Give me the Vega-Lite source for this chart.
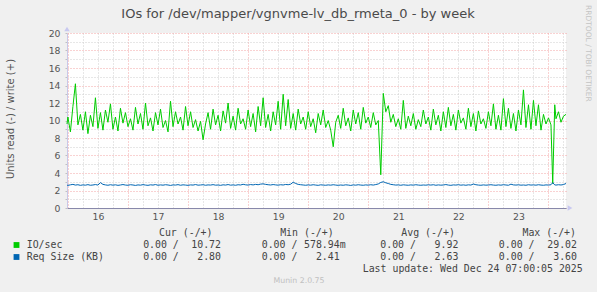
{
  "$schema": "https://vega.github.io/schema/vega-lite/v6.json",
  "width": 499,
  "height": 175,
  "autosize": {"type": "none"},
  "padding": {"left": 67, "top": 33, "right": 31, "bottom": 84},
  "background": "#F0F0F0",
  "config": {"view": {"fill": "#FFFFFF", "stroke": null}, "font": "DejaVu Sans"},
  "title": {"text": "IOs for /dev/mapper/vgnvme-lv_db_rmeta_0 - by week", "font": "DejaVu Sans", "fontSize": 13, "fontWeight": "normal", "color": "#4A4A4A", "anchor": "middle", "frame": "group", "dx": -18.5, "offset": 0, "dy": 16},
  "datasets": {
    "s": [
      {"t": -0.36, "io": 9.6, "rq": 2.62},
      {"t": 0, "io": 10.4, "rq": 2.58},
      {"t": 1, "io": 8.7, "rq": 2.65},
      {"t": 2, "io": 11.6, "rq": 2.7},
      {"t": 3, "io": 14.2, "rq": 2.62},
      {"t": 4, "io": 9.5, "rq": 2.66},
      {"t": 5, "io": 10.7, "rq": 2.59},
      {"t": 6, "io": 8.9, "rq": 2.64},
      {"t": 7, "io": 11.0, "rq": 2.61},
      {"t": 8, "io": 8.5, "rq": 2.67},
      {"t": 9, "io": 10.6, "rq": 2.6},
      {"t": 10, "io": 9.3, "rq": 2.63},
      {"t": 11, "io": 12.6, "rq": 2.68},
      {"t": 12, "io": 9.1, "rq": 2.62},
      {"t": 13, "io": 10.9, "rq": 2.9},
      {"t": 14, "io": 8.9, "rq": 2.7},
      {"t": 15, "io": 11.2, "rq": 2.64},
      {"t": 16, "io": 9.8, "rq": 2.6},
      {"t": 17, "io": 11.9, "rq": 2.66},
      {"t": 18, "io": 9.0, "rq": 2.61},
      {"t": 19, "io": 10.4, "rq": 2.65},
      {"t": 20, "io": 8.8, "rq": 2.59},
      {"t": 21, "io": 11.4, "rq": 2.63},
      {"t": 22, "io": 9.7, "rq": 2.68},
      {"t": 23, "io": 10.9, "rq": 2.62},
      {"t": 24, "io": 9.3, "rq": 2.6},
      {"t": 25, "io": 10.2, "rq": 2.66},
      {"t": 26, "io": 8.9, "rq": 2.63},
      {"t": 27, "io": 11.5, "rq": 2.58},
      {"t": 28, "io": 9.6, "rq": 2.64},
      {"t": 29, "io": 10.8, "rq": 2.61},
      {"t": 30, "io": 9.0, "rq": 2.67},
      {"t": 31, "io": 12.0, "rq": 2.62},
      {"t": 32, "io": 9.4, "rq": 2.59},
      {"t": 33, "io": 10.3, "rq": 2.65},
      {"t": 34, "io": 8.8, "rq": 2.62},
      {"t": 35, "io": 10.9, "rq": 2.68},
      {"t": 36, "io": 9.5, "rq": 2.6},
      {"t": 37, "io": 11.3, "rq": 2.64},
      {"t": 38, "io": 9.2, "rq": 2.61},
      {"t": 39, "io": 10.0, "rq": 2.66},
      {"t": 40, "io": 8.7, "rq": 2.63},
      {"t": 41, "io": 12.2, "rq": 2.58},
      {"t": 42, "io": 9.3, "rq": 2.64},
      {"t": 43, "io": 11.0, "rq": 2.62},
      {"t": 44, "io": 9.6, "rq": 2.67},
      {"t": 45, "io": 10.4, "rq": 2.6},
      {"t": 46, "io": 8.9, "rq": 2.65},
      {"t": 47, "io": 11.6, "rq": 2.62},
      {"t": 48, "io": 9.4, "rq": 2.59},
      {"t": 49, "io": 11.0, "rq": 2.64},
      {"t": 50, "io": 9.2, "rq": 2.62},
      {"t": 51, "io": 10.1, "rq": 2.68},
      {"t": 52, "io": 8.8, "rq": 2.61},
      {"t": 53, "io": 9.9, "rq": 2.63},
      {"t": 54, "io": 7.8, "rq": 2.66},
      {"t": 55, "io": 9.6, "rq": 2.6},
      {"t": 56, "io": 10.9, "rq": 2.64},
      {"t": 57, "io": 9.0, "rq": 2.62},
      {"t": 58, "io": 11.3, "rq": 2.67},
      {"t": 59, "io": 9.5, "rq": 2.61},
      {"t": 60, "io": 10.6, "rq": 2.63},
      {"t": 61, "io": 8.8, "rq": 2.59},
      {"t": 62, "io": 11.1, "rq": 2.65},
      {"t": 63, "io": 9.7, "rq": 2.62},
      {"t": 64, "io": 12.0, "rq": 2.68},
      {"t": 65, "io": 9.1, "rq": 2.61},
      {"t": 66, "io": 10.5, "rq": 2.64},
      {"t": 67, "io": 8.9, "rq": 2.6},
      {"t": 68, "io": 11.4, "rq": 2.66},
      {"t": 69, "io": 9.6, "rq": 2.63},
      {"t": 70, "io": 10.2, "rq": 2.71},
      {"t": 71, "io": 9.0, "rq": 2.65},
      {"t": 72, "io": 11.2, "rq": 2.62},
      {"t": 73, "io": 9.3, "rq": 2.68},
      {"t": 74, "io": 10.8, "rq": 2.64},
      {"t": 75, "io": 8.7, "rq": 2.7},
      {"t": 76, "io": 11.6, "rq": 2.66},
      {"t": 77, "io": 9.4, "rq": 2.73},
      {"t": 78, "io": 12.6, "rq": 2.76},
      {"t": 79, "io": 9.2, "rq": 2.7},
      {"t": 80, "io": 10.7, "rq": 2.66},
      {"t": 81, "io": 8.8, "rq": 2.63},
      {"t": 82, "io": 11.0, "rq": 2.68},
      {"t": 83, "io": 9.5, "rq": 2.64},
      {"t": 84, "io": 12.2, "rq": 2.61},
      {"t": 85, "io": 9.0, "rq": 2.66},
      {"t": 86, "io": 13.0, "rq": 2.63},
      {"t": 87, "io": 9.4, "rq": 2.69},
      {"t": 88, "io": 12.4, "rq": 2.66},
      {"t": 89, "io": 9.1, "rq": 2.72},
      {"t": 90, "io": 10.8, "rq": 2.95},
      {"t": 91, "io": 8.9, "rq": 2.8},
      {"t": 92, "io": 11.3, "rq": 2.7},
      {"t": 93, "io": 9.6, "rq": 2.66},
      {"t": 94, "io": 10.4, "rq": 2.63},
      {"t": 95, "io": 9.0, "rq": 2.6},
      {"t": 96, "io": 11.0, "rq": 2.64},
      {"t": 97, "io": 9.3, "rq": 2.61},
      {"t": 98, "io": 10.2, "rq": 2.66},
      {"t": 99, "io": 8.6, "rq": 2.62},
      {"t": 100, "io": 10.8, "rq": 2.59},
      {"t": 101, "io": 9.5, "rq": 2.65},
      {"t": 102, "io": 11.2, "rq": 2.62},
      {"t": 103, "io": 9.2, "rq": 2.6},
      {"t": 104, "io": 10.0, "rq": 2.64},
      {"t": 105, "io": 8.9, "rq": 2.61},
      {"t": 106, "io": 7.0, "rq": 2.66},
      {"t": 107, "io": 9.8, "rq": 2.62},
      {"t": 108, "io": 10.6, "rq": 2.59},
      {"t": 109, "io": 9.1, "rq": 2.63},
      {"t": 110, "io": 11.4, "rq": 2.6},
      {"t": 111, "io": 9.4, "rq": 2.65},
      {"t": 112, "io": 10.3, "rq": 2.62},
      {"t": 113, "io": 8.8, "rq": 2.58},
      {"t": 114, "io": 11.2, "rq": 2.64},
      {"t": 115, "io": 9.6, "rq": 2.61},
      {"t": 116, "io": 10.9, "rq": 2.66},
      {"t": 117, "io": 9.0, "rq": 2.62},
      {"t": 118, "io": 11.5, "rq": 2.6},
      {"t": 119, "io": 9.7, "rq": 2.64},
      {"t": 120, "io": 10.4, "rq": 2.61},
      {"t": 121, "io": 9.2, "rq": 2.66},
      {"t": 122, "io": 10.9, "rq": 2.62},
      {"t": 123, "io": 9.5, "rq": 2.68},
      {"t": 124, "io": 10.0, "rq": 2.75},
      {"t": 125, "io": 3.8, "rq": 2.92},
      {"t": 126, "io": 13.1, "rq": 3.0},
      {"t": 127, "io": 11.0, "rq": 2.88},
      {"t": 128, "io": 11.7, "rq": 2.8},
      {"t": 129, "io": 9.8, "rq": 2.7},
      {"t": 130, "io": 10.7, "rq": 2.66},
      {"t": 131, "io": 9.3, "rq": 2.62},
      {"t": 132, "io": 10.2, "rq": 2.64},
      {"t": 133, "io": 9.0, "rq": 2.6},
      {"t": 134, "io": 12.3, "rq": 2.65},
      {"t": 135, "io": 9.1, "rq": 2.62},
      {"t": 136, "io": 10.5, "rq": 2.6},
      {"t": 137, "io": 9.4, "rq": 2.64},
      {"t": 138, "io": 10.8, "rq": 2.61},
      {"t": 139, "io": 9.0, "rq": 2.66},
      {"t": 140, "io": 10.1, "rq": 2.62},
      {"t": 141, "io": 9.3, "rq": 2.6},
      {"t": 142, "io": 11.2, "rq": 2.63},
      {"t": 143, "io": 9.6, "rq": 2.61},
      {"t": 144, "io": 10.4, "rq": 2.65},
      {"t": 145, "io": 8.9, "rq": 2.62},
      {"t": 146, "io": 11.3, "rq": 2.66},
      {"t": 147, "io": 9.5, "rq": 2.6},
      {"t": 148, "io": 10.6, "rq": 2.64},
      {"t": 149, "io": 8.8, "rq": 2.61},
      {"t": 150, "io": 11.0, "rq": 2.63},
      {"t": 151, "io": 9.2, "rq": 2.68},
      {"t": 152, "io": 11.5, "rq": 2.62},
      {"t": 153, "io": 9.4, "rq": 2.59},
      {"t": 154, "io": 10.7, "rq": 2.64},
      {"t": 155, "io": 8.9, "rq": 2.62},
      {"t": 156, "io": 11.2, "rq": 2.66},
      {"t": 157, "io": 9.7, "rq": 2.61},
      {"t": 158, "io": 10.3, "rq": 2.64},
      {"t": 159, "io": 9.0, "rq": 2.6},
      {"t": 160, "io": 11.4, "rq": 2.65},
      {"t": 161, "io": 9.3, "rq": 2.62},
      {"t": 162, "io": 10.8, "rq": 2.74},
      {"t": 163, "io": 8.8, "rq": 2.66},
      {"t": 164, "io": 11.1, "rq": 2.62},
      {"t": 165, "io": 9.6, "rq": 2.6},
      {"t": 166, "io": 10.2, "rq": 2.64},
      {"t": 167, "io": 9.1, "rq": 2.61},
      {"t": 168, "io": 11.0, "rq": 2.63},
      {"t": 169, "io": 9.4, "rq": 2.66},
      {"t": 170, "io": 11.9, "rq": 2.62},
      {"t": 171, "io": 9.0, "rq": 2.6},
      {"t": 172, "io": 10.6, "rq": 2.64},
      {"t": 173, "io": 8.9, "rq": 2.61},
      {"t": 174, "io": 12.5, "rq": 2.66},
      {"t": 175, "io": 9.3, "rq": 2.63},
      {"t": 176, "io": 11.4, "rq": 2.6},
      {"t": 177, "io": 9.1, "rq": 2.72},
      {"t": 178, "io": 10.8, "rq": 2.64},
      {"t": 179, "io": 8.8, "rq": 2.62},
      {"t": 180, "io": 11.2, "rq": 2.65},
      {"t": 181, "io": 9.5, "rq": 2.61},
      {"t": 182, "io": 13.5, "rq": 2.63},
      {"t": 183, "io": 9.2, "rq": 2.6},
      {"t": 184, "io": 11.8, "rq": 2.66},
      {"t": 185, "io": 9.0, "rq": 2.62},
      {"t": 186, "io": 12.3, "rq": 2.64},
      {"t": 187, "io": 9.4, "rq": 2.61},
      {"t": 188, "io": 11.8, "rq": 2.66},
      {"t": 189, "io": 8.9, "rq": 2.62},
      {"t": 190, "io": 10.7, "rq": 2.6},
      {"t": 191, "io": 9.6, "rq": 2.64},
      {"t": 192, "io": 10.3, "rq": 2.62},
      {"t": 193, "io": 9.5, "rq": 2.66},
      {"t": 193.7, "io": 2.8, "rq": 2.9},
      {"t": 194.5, "io": 11.8, "rq": 2.64},
      {"t": 195, "io": 10.2, "rq": 2.62},
      {"t": 196, "io": 11.0, "rq": 2.66},
      {"t": 197, "io": 9.8, "rq": 2.63},
      {"t": 198, "io": 10.5, "rq": 2.68},
      {"t": 199, "io": 10.7, "rq": 2.8}
    ],
    "tbl": [
      {"row": "hdr", "col": "cur", "part": "h", "txt": "Cur (-/+)"},
      {"row": "hdr", "col": "min", "part": "h", "txt": "Min (-/+)"},
      {"row": "hdr", "col": "avg", "part": "h", "txt": "Avg (-/+)"},
      {"row": "hdr", "col": "max", "part": "h", "txt": "Max (-/+)"},
      {"row": "io", "col": "cur", "part": "l", "txt": "0.00 /"},
      {"row": "io", "col": "min", "part": "l", "txt": "0.00 /"},
      {"row": "io", "col": "avg", "part": "l", "txt": "0.00 /"},
      {"row": "io", "col": "max", "part": "l", "txt": "0.00 /"},
      {"row": "rq", "col": "cur", "part": "l", "txt": "0.00 /"},
      {"row": "rq", "col": "min", "part": "l", "txt": "0.00 /"},
      {"row": "rq", "col": "avg", "part": "l", "txt": "0.00 /"},
      {"row": "rq", "col": "max", "part": "l", "txt": "0.00 /"},
      {"row": "io", "col": "cur", "part": "r", "txt": "10.72"},
      {"row": "io", "col": "min", "part": "r", "txt": "578.94"},
      {"row": "io", "col": "min", "part": "sfx", "txt": "m"},
      {"row": "io", "col": "avg", "part": "r", "txt": "9.92"},
      {"row": "io", "col": "max", "part": "r", "txt": "29.02"},
      {"row": "rq", "col": "cur", "part": "r", "txt": "2.80"},
      {"row": "rq", "col": "min", "part": "r", "txt": "2.41"},
      {"row": "rq", "col": "avg", "part": "r", "txt": "2.63"},
      {"row": "rq", "col": "max", "part": "r", "txt": "3.60"},
      {"row": "up", "col": "up", "part": "up", "txt": "Last update: Wed Dec 24 07:00:05 2025"},
      {"row": "io", "col": "lab", "part": "lab", "txt": "IO/sec", "ser": "io"},
      {"row": "rq", "col": "lab", "part": "lab", "txt": "Req Size (KB)", "ser": "rq"},
      {"row": "mu", "col": "mu", "part": "mu", "txt": "Munin 2.0.75"},
      {"row": "rr", "col": "rr", "part": "rr", "txt": "RRDTOOL / TOBI OETIKER"}
    ]
  },
  "layer": [
    {
      "data": {"name": "s"},
      "layer": [
        {
          "mark": {"type": "line", "color": "#00CC00", "strokeWidth": 1},
          "encoding": {
            "x": {"field": "t", "type": "quantitative", "scale": {"domain": [-0.36, 199], "nice": false, "zero": false},
              "axis": {"orient": "bottom", "values": [6, 12, 18, 30, 36, 42, 54, 60, 66, 78, 84, 90, 102, 108, 114, 126, 132, 138, 150, 156, 162, 174, 180, 186, 198], "grid": true, "gridColor": "#CFCFCF", "gridDash": [1, 2], "labels": false, "ticks": false, "domain": false, "title": null}},
            "y": {"field": "io", "type": "quantitative", "scale": {"domain": [0, 20], "nice": false},
              "axis": {"orient": "left", "values": [1, 3, 5, 7, 9, 11, 13, 15, 17, 19], "grid": true, "gridColor": "#CFCFCF", "gridDash": [1, 2], "labels": false, "ticks": true, "tickSize": 2, "tickColor": "#C0C0C0", "domain": false, "title": null}}
          }
        },
        {
          "mark": {"type": "line", "color": "#0066B3", "strokeWidth": 1},
          "encoding": {
            "x": {"field": "t", "type": "quantitative", "scale": {"domain": [-0.36, 199], "nice": false, "zero": false},
              "axis": {"orient": "bottom", "values": [0, 24, 48, 72, 96, 120, 144, 168, 192], "grid": true, "gridColor": "#F2A5A5", "gridDash": [1, 2], "labels": false, "ticks": false, "domain": false, "title": null}},
            "y": {"field": "rq", "type": "quantitative", "scale": {"domain": [0, 20], "nice": false},
              "axis": {"orient": "left", "values": [0, 2, 4, 6, 8, 10, 12, 14, 16, 18, 20], "grid": true, "gridColor": "#F2A5A5", "gridDash": [1, 2], "labels": true, "labelFont": "DejaVu Sans", "labelFontSize": 9.3, "labelColor": "#555555", "labelPadding": 5, "ticks": true, "tickSize": 2, "tickColor": "#C0C0C0", "domain": false,
                "title": "Units read (-) / write (+)", "titleFont": "DejaVu Sans", "titleFontSize": 10, "titleFontWeight": "normal", "titleColor": "#555555", "titleX": -56.5, "titleY": 85.5, "titleAngle": -90, "titleBaseline": "middle", "titleAlign": "center"}}
          }
        },
        {
          "data": {"values": [{"t": 199, "v": 0}]},
          "mark": {"type": "point", "shape": "triangle-right", "filled": true, "color": "#C8C8F0", "size": 30, "xOffset": 4, "opacity": 1},
          "encoding": {
            "x": {"field": "t", "type": "quantitative", "scale": {"domain": [-0.36, 199], "nice": false, "zero": false},
              "axis": {"orient": "bottom", "values": [12, 36, 60, 84, 108, 132, 156, 180], "labelExpr": "'' + (16 + floor(datum.value / 24))", "grid": false, "ticks": false, "domain": true, "domainColor": "#8888AA", "labelFont": "DejaVu Sans", "labelFontSize": 9.3, "labelColor": "#555555", "labelPadding": 4, "title": null}},
            "y": {"field": "v", "type": "quantitative", "scale": {"domain": [0, 20], "nice": false}, "axis": null}
          }
        },
        {
          "data": {"values": [{"t": -0.36, "v": 20}]},
          "mark": {"type": "point", "shape": "triangle-up", "filled": true, "color": "#C8C8F0", "size": 30, "yOffset": -4, "opacity": 1},
          "encoding": {
            "x": {"field": "t", "type": "quantitative", "scale": {"domain": [-0.36, 199], "nice": false, "zero": false}, "axis": null},
            "y": {"field": "v", "type": "quantitative", "scale": {"domain": [0, 20], "nice": false},
              "axis": {"orient": "left", "values": [], "domain": true, "domainColor": "#C8C8E8", "labels": false, "ticks": false, "grid": false, "title": null}}
          }
        }
      ],
      "resolve": {"axis": {"x": "independent", "y": "independent"}}
    },
    {
      "data": {"name": "tbl"},
      "layer": [
        {
          "transform": [{"filter": "datum.part == 'h'"}],
          "mark": {"type": "text", "align": "right", "baseline": "middle", "font": "DejaVu Sans Mono", "fontSize": 9.9, "color": "#444444"},
          "encoding": {
            "x": {"field": "col", "type": "nominal", "scale": {"type": "point", "domain": ["cur", "min", "avg", "max"], "range": [145.5, 509], "padding": 0}, "axis": null},
            "y": {"field": "row", "type": "nominal", "scale": {"type": "point", "domain": ["hdr", "io", "rq", "up", "mu"], "range": [200, 248], "padding": 0}, "axis": null},
            "text": {"field": "txt"}
          }
        },
        {
          "transform": [{"filter": "datum.part == 'l'"}],
          "mark": {"type": "text", "align": "right", "baseline": "middle", "font": "DejaVu Sans Mono", "fontSize": 9.9, "color": "#444444"},
          "encoding": {
            "x": {"field": "col", "type": "nominal", "scale": {"type": "point", "domain": ["cur", "min", "avg", "max"], "range": [111.8, 467.5], "padding": 0}, "axis": null},
            "y": {"field": "row", "type": "nominal", "scale": {"type": "point", "domain": ["hdr", "io", "rq", "up", "mu"], "range": [200, 248], "padding": 0}, "axis": null},
            "text": {"field": "txt"}
          }
        },
        {
          "transform": [{"filter": "datum.part == 'r'"}],
          "mark": {"type": "text", "align": "right", "baseline": "middle", "font": "DejaVu Sans Mono", "fontSize": 9.9, "color": "#444444"},
          "encoding": {
            "x": {"field": "col", "type": "nominal", "scale": {"type": "point", "domain": ["cur", "min", "avg", "max"], "range": [154, 510], "padding": 0}, "axis": null},
            "y": {"field": "row", "type": "nominal", "scale": {"type": "point", "domain": ["hdr", "io", "rq", "up", "mu"], "range": [200, 248], "padding": 0}, "axis": null},
            "text": {"field": "txt"}
          }
        },
        {
          "transform": [{"filter": "datum.part == 'sfx'"}],
          "mark": {"type": "text", "align": "left", "baseline": "middle", "font": "DejaVu Sans Mono", "fontSize": 9.9, "color": "#444444"},
          "encoding": {
            "x": {"field": "col", "type": "nominal", "scale": {"type": "point", "domain": ["cur", "min", "avg", "max"], "range": [154, 510], "padding": 0}, "axis": null},
            "y": {"field": "row", "type": "nominal", "scale": {"type": "point", "domain": ["hdr", "io", "rq", "up", "mu"], "range": [200, 248], "padding": 0}, "axis": null},
            "text": {"field": "txt"}
          }
        },
        {
          "transform": [{"filter": "datum.part == 'up'"}],
          "mark": {"type": "text", "align": "right", "baseline": "middle", "font": "DejaVu Sans Mono", "fontSize": 9.9, "color": "#444444"},
          "encoding": {
            "x": {"field": "col", "type": "nominal", "scale": {"type": "point", "domain": ["up"], "range": [515.7, 515.7], "padding": 0}, "axis": null},
            "y": {"field": "row", "type": "nominal", "scale": {"type": "point", "domain": ["hdr", "io", "rq", "up", "mu"], "range": [200, 248], "padding": 0}, "axis": null},
            "text": {"field": "txt"}
          }
        },
        {
          "transform": [{"filter": "datum.part == 'lab'"}],
          "mark": {"type": "text", "align": "left", "baseline": "middle", "font": "DejaVu Sans Mono", "fontSize": 9.9, "color": "#444444"},
          "encoding": {
            "x": {"field": "col", "type": "nominal", "scale": {"type": "point", "domain": ["sq", "lab"], "range": [-50.5, -40.3], "padding": 0}, "axis": null},
            "y": {"field": "row", "type": "nominal", "scale": {"type": "point", "domain": ["hdr", "io", "rq", "up", "mu"], "range": [200, 248], "padding": 0}, "axis": null},
            "text": {"field": "txt"}
          }
        },
        {
          "transform": [{"filter": "datum.part == 'lab'"}],
          "mark": {"type": "point", "shape": "square", "filled": true, "size": 34, "opacity": 1},
          "encoding": {
            "x": {"datum": "sq", "type": "nominal", "scale": {"type": "point", "domain": ["sq", "lab"], "range": [-50.5, -40.3], "padding": 0}, "axis": null},
            "y": {"field": "row", "type": "nominal", "scale": {"type": "point", "domain": ["hdr", "io", "rq", "up", "mu"], "range": [200, 248], "padding": 0}, "axis": null},
            "color": {"field": "ser", "type": "nominal", "scale": {"domain": ["io", "rq"], "range": ["#00CC00", "#0066B3"]}, "legend": null}
          }
        },
        {
          "transform": [{"filter": "datum.part == 'mu'"}],
          "mark": {"type": "text", "align": "center", "baseline": "middle", "font": "DejaVu Sans", "fontSize": 7.8, "color": "#C0C0C0"},
          "encoding": {
            "x": {"field": "col", "type": "nominal", "scale": {"type": "point", "domain": ["mu"], "range": [232, 232], "padding": 0}, "axis": null},
            "y": {"field": "row", "type": "nominal", "scale": {"type": "point", "domain": ["hdr", "io", "rq", "up", "mu"], "range": [200, 248], "padding": 0}, "axis": null},
            "text": {"field": "txt"}
          }
        },
        {
          "transform": [{"filter": "datum.part == 'rr'"}],
          "mark": {"type": "text", "align": "left", "baseline": "middle", "angle": 90, "font": "DejaVu Sans", "fontSize": 7.5, "color": "#C4C4C4"},
          "encoding": {
            "x": {"field": "col", "type": "nominal", "scale": {"type": "point", "domain": ["rr"], "range": [521, 521], "padding": 0}, "axis": null},
            "y": {"field": "row", "type": "nominal", "scale": {"type": "point", "domain": ["rr"], "range": [-28, -28], "padding": 0}, "axis": null},
            "text": {"field": "txt"}
          }
        }
      ],
      "resolve": {"scale": {"x": "independent", "y": "independent", "color": "independent"}}
    }
  ],
  "resolve": {"scale": {"x": "independent", "y": "independent"}}
}
